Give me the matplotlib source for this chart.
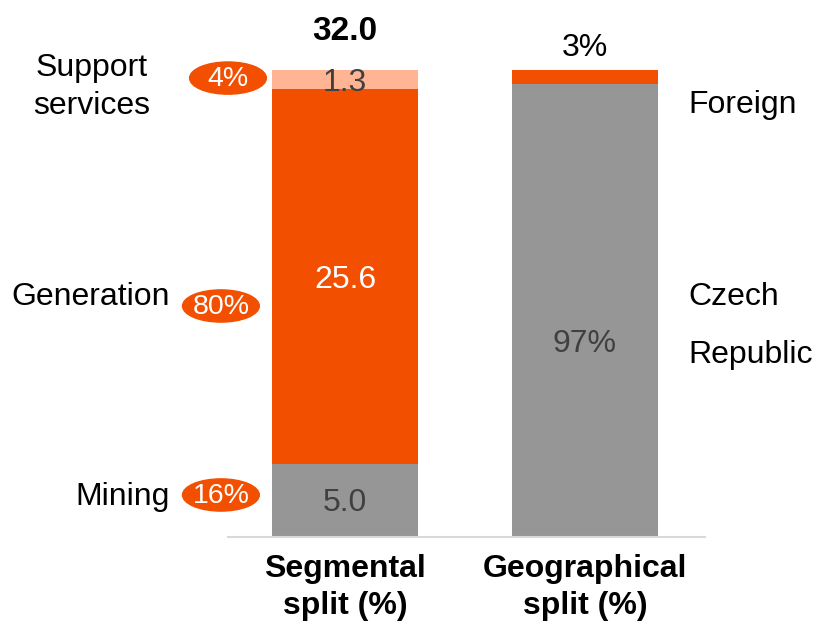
import matplotlib as mpl
mpl.use('Agg')
import matplotlib.pyplot as plt
from matplotlib.patches import Ellipse

plt.rcParams['font.family'] = ['Liberation Sans', 'DejaVu Sans']

# segmental split (absolute values) and geographical split (%)
categories = ['Segmental\nsplit (%)', 'Geographical\nsplit (%)']
segments = ['Mining', 'Generation', 'Support\nservices']
seg_values = [5.0, 25.6, 1.3]
seg_share = ['16%', '80%', '4%']
seg_total = '32.0'
geo_names = ['Czech', 'Republic', 'Foreign']
geo_values = [97, 3]

ORANGE = '#F25000'
LIGHT = '#FFB593'
GREY = '#969696'
DARK = '#404040'
FS = 23

fig = plt.figure(figsize=(8.15, 6.22), dpi=100)
ax = fig.add_axes([228/815., 1-537/622., 477/815., 527/622.])
ax.set_xlim(-0.4875, 1.5)
ax.set_ylim(0, 36)
w = 0.608

total = sum(seg_values)
seg_colors = [GREY, ORANGE, LIGHT]
bottom = 0
for v, c in zip(seg_values, seg_colors):
    ax.bar(0, v, w, bottom=bottom, color=c, linewidth=0)
    bottom += v

# geographical shares scaled to the same bar height
geo_colors = [GREY, ORANGE]
gb = 0
for v, c in zip(geo_values, geo_colors):
    h = v * total / 100.
    ax.bar(1, h, w, bottom=gb, color=c, linewidth=0)
    gb += h

# value labels inside segmental bar
ax.text(0, 2.3, '%.1f' % seg_values[0], ha='center', va='center', fontsize=FS, color=DARK)
ax.text(0, 17.55, '%.1f' % seg_values[1], ha='center', va='center', fontsize=FS, color='white')
ax.text(0, 31.0, '%.1f' % seg_values[2], ha='center', va='center', fontsize=FS, color=DARK)
ax.text(0, 34.5, seg_total, ha='center', va='center', fontsize=FS + 1, fontweight='bold')

# geographical labels
ax.text(1, 13.2, '%d%%' % geo_values[0], ha='center', va='center', fontsize=FS, color=DARK)
ax.text(1, 33.4, '%d%%' % geo_values[1], ha='center', va='center', fontsize=FS)
ax.text(1.43, 16.4, geo_names[0], ha='left', va='center', fontsize=FS)
ax.text(1.43, 12.45, geo_names[1], ha='left', va='center', fontsize=FS)
ax.text(1.43, 29.5, geo_names[2], ha='left', va='center', fontsize=FS)

# segment names and share badges on the left
name_y = [2.7, 16.4, 30.75]
badge_y = [2.87, 15.78, 31.35]
badge_x = [-0.517, -0.517, -0.4875]
for i, name in enumerate(segments):
    if '\n' in name:
        ax.text(-1.055, name_y[i], name, ha='center', va='center', fontsize=FS,
                linespacing=1.35, clip_on=False)
    else:
        ax.text(-0.73, name_y[i], name, ha='right', va='center', fontsize=FS,
                clip_on=False)
    e = Ellipse((badge_x[i], badge_y[i]), 0.32, 2.2, color=ORANGE, clip_on=False, zorder=3)
    ax.add_patch(e)
    ax.text(badge_x[i], badge_y[i] - 0.05, seg_share[i], ha='center', va='center',
            fontsize=FS - 2.5, color='white', zorder=4, clip_on=False)

ax.set_xticks([0, 1])
ax.set_xticklabels(categories, fontsize=FS, fontweight='bold', linespacing=1.3)
ax.tick_params(axis='x', length=0, pad=12)
ax.set_yticks([])
for s in ['top', 'left', 'right']:
    ax.spines[s].set_visible(False)
ax.spines['bottom'].set_color('#D9D9D9')
ax.spines['bottom'].set_linewidth(1.5)

fig.savefig('out.png', dpi=100)
